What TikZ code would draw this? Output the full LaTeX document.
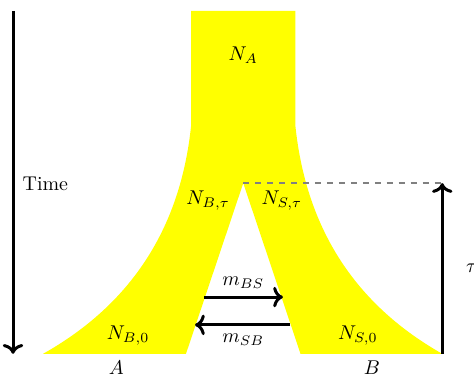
\documentclass[tikz,border=0pt]{standalone}
\usepackage{amsmath,amssymb}
\usepackage{xcolor}
\usepackage{tikz}
\usetikzlibrary{positioning,arrows.meta,calc}
\definecolor{popyellow}{rgb}{1,1,0}

\begin{document}
\begin{tikzpicture}[
  every node/.style={font=\normalsize},
  pop/.style={fill=popyellow, draw=none},
  axis/.style={line width=1.5pt, ->, black},
  mig/.style={line width=1.5pt, ->, black},
  guide/.style={thick, dashed, gray}
]
\useasboundingbox (0,0) rectangle (8.36,6.63);

% Populationen
\fill[pop] (3.37,6.44) -- (5.21,6.44) -- (5.21,4.41)
  .. controls (5.40,2.58) and (6.28,1.25) .. (7.80,0.39)
  -- (5.30,0.39) -- (4.29,3.40) -- (3.28,0.39) -- (0.76,0.39)
  .. controls (2.29,1.25) and (3.18,2.58) .. (3.37,4.41) -- cycle;

% Zeitachse
\coordinate (t0) at (0.23,6.44);
\coordinate (t1) at (0.23,0.39);
\draw[axis] (t0) -- (t1);
\node (time) at (0.80,3.39) {Time};

% Split
\coordinate (split) at (4.29,3.40);
\coordinate (tautop) at (7.80,3.40);
\coordinate (taubot) at (7.80,0.39);
\draw[guide] (split) -- (tautop);
\draw[axis] (taubot) -- (tautop);
\node (tau) at (8.32,1.90) {$\tau$};

% Labels
\node (NA) at (4.29,5.66) {$N_A$};
\node (NBt) at (3.67,3.10) {$N_{B,\tau}$};
\node (NSt) at (4.97,3.10) {$N_{S,\tau}$};
\node (NB0) at (2.26,0.71) {$N_{B,0}$};
\node (NS0) at (6.31,0.71) {$N_{S,0}$};
\node (A) at (2.05,0.15) {$A$};
\node (B) at (6.56,0.15) {$B$};

% Migration
\coordinate (bs0) at (3.60,1.39);
\coordinate (bs1) at (4.99,1.39);
\coordinate (sb0) at (5.12,0.90);
\coordinate (sb1) at (3.44,0.90);
\draw[mig] (bs0) -- (bs1);
\draw[mig] (sb0) -- (sb1);
\node (mBS) at (4.29,1.64) {$m_{BS}$};
\node (mSB) at (4.29,0.63) {$m_{SB}$};
\end{tikzpicture}
\end{document}
